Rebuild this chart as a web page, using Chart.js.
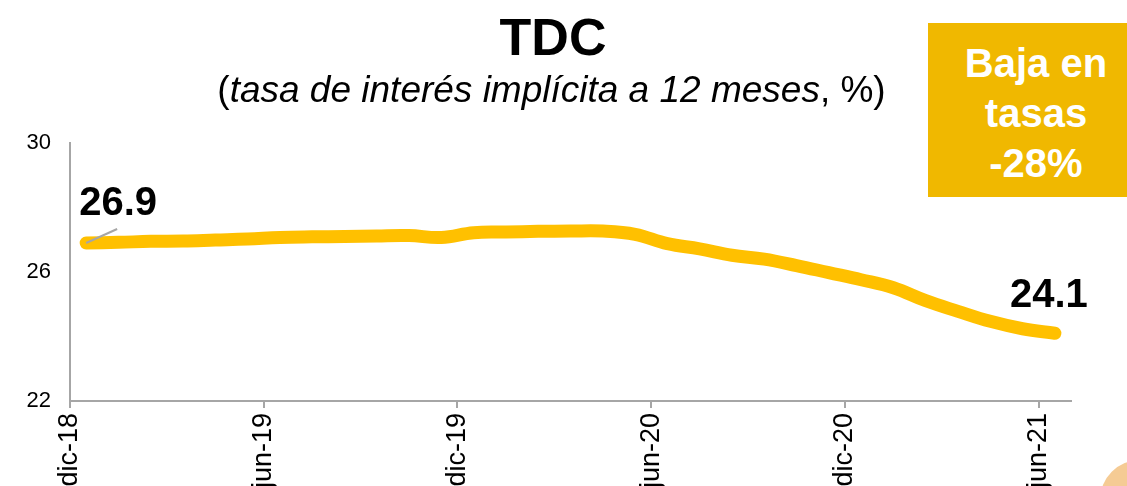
<!DOCTYPE html>
<html>
<head>
<meta charset="utf-8">
<script src="https://cdn.jsdelivr.net/npm/chart.js@4"></script>
<style>
  body { margin: 0; background: #fff; overflow: hidden; }
  #wrap { position: relative; width: 1127px; height: 486px; overflow: hidden; font-family: "Liberation Sans", Arial, sans-serif; }
  #chart1 { position: absolute; left: 0; top: 0; }
  .title { position: absolute; left: 0; width: 1106px; top: 11px; text-align: center; font: bold 52px/52px "Liberation Sans", Arial, sans-serif; color: #000; }
  .subtitle { position: absolute; left: 0; width: 1103px; top: 71px; text-align: center; font: 37px/37px "Liberation Sans", Arial, sans-serif; color: #000; }
  .badge { position: absolute; left: 928px; top: 23px; width: 216px; height: 159px; padding-top: 15px; background: #f0b800; color: #fff; text-align: center; font: bold 40px/50px "Liberation Sans", Arial, sans-serif; }
  .dot { position: absolute; left: 1100px; top: 460px; width: 80px; height: 80px; border-radius: 50%; background: #f5cb94; }
</style>
</head>
<body>
<div id="wrap">
  <canvas id="chart1" width="1127" height="520"></canvas>
  <div class="title">TDC</div>
  <div class="subtitle">(<i>tasa de interés implícita a 12 meses</i>, %)</div>
  <div class="badge">Baja en<br>tasas<br>-28%</div>
  <div class="dot"></div>
</div>
<script>
const months = [
  "dic-18",
  "ene-19", "feb-19", "mar-19", "abr-19", "may-19", "jun-19",
  "jul-19", "ago-19", "sep-19", "oct-19", "nov-19", "dic-19",
  "ene-20", "feb-20", "mar-20", "abr-20", "may-20", "jun-20",
  "jul-20", "ago-20", "sep-20", "oct-20", "nov-20", "dic-20",
  "ene-21", "feb-21", "mar-21", "abr-21", "may-21", "jun-21",
];

// tasa implicita a 12 meses, %
const tdc = [
  26.90,
  26.92, 26.95, 26.96, 26.99, 27.02, 27.07,
  27.09, 27.10, 27.12, 27.13, 27.07, 27.22,
  27.24, 27.26, 27.27, 27.27, 27.17, 26.88,
  26.72, 26.52, 26.40, 26.20, 25.98, 25.76,
  25.51, 25.11, 24.78, 24.47, 24.24, 24.10,
];

const tickLabels = ["dic-18", "jun-19", "dic-19", "jun-20", "dic-20", "jun-21"];
const yTicks = [22, 26, 30];

// mid-month points
const points = tdc.map((v, i) => ({ x: i + 0.5, y: v }));

const endLabels = {
  id: "endLabels",
  afterDatasetsDraw(chart) {
    const ctx = chart.ctx;
    const pts = chart.getDatasetMeta(0).data;
    const first = pts[0];
    const last = pts[pts.length - 1];
    ctx.save();
    // leader line
    ctx.strokeStyle = "#a6a6a6";
    ctx.lineWidth = 2;
    ctx.beginPath();
    ctx.moveTo(first.x, first.y);
    ctx.lineTo(first.x + 31, first.y - 14);
    ctx.stroke();
    ctx.fillStyle = "#000";
    ctx.font = "bold 40px 'Liberation Sans', Arial, sans-serif";
    ctx.textAlign = "center";
    ctx.textBaseline = "alphabetic";
    ctx.fillText(tdc[0].toFixed(1), first.x + 32, first.y - 28);
    ctx.fillText(tdc[tdc.length - 1].toFixed(1), last.x - 6, last.y - 26);
    ctx.restore();
  },
};

new Chart(document.getElementById("chart1"), {
  type: "line",
  data: {
    datasets: [
      {
        label: "TDC",
        data: points,
        borderColor: "#ffc000",
        borderWidth: 13,
        borderCapStyle: "round",
        borderJoinStyle: "round",
        tension: 0.4,
        pointRadius: 0,
        fill: false,
      },
    ],
  },
  options: {
    responsive: false,
    animation: false,
    devicePixelRatio: 1,
    layout: { padding: { left: 0, right: 56, top: 143, bottom: 0 } },
    plugins: {
      legend: { display: false },
      tooltip: { enabled: false },
    },
    scales: {
      x: {
        type: "linear",
        min: 0,
        max: 31,
        afterBuildTicks: (scale) => {
          scale.ticks = tickLabels.map((l) => ({ value: months.indexOf(l) }));
        },
        afterFit: (scale) => { scale.height = 119; },
        border: { color: "#a6a6a6", width: 2 },
        grid: { drawOnChartArea: false, drawTicks: true, tickLength: 7, color: "#a6a6a6", lineWidth: 2 },
        ticks: {
          autoSkip: false,
          minRotation: 90,
          maxRotation: 90,
          padding: 5,
          color: "#000",
          font: { family: "'Liberation Sans', Arial, sans-serif", size: 27 },
          callback: (v) => months[v],
        },
      },
      y: {
        min: 22,
        max: 30,
        afterBuildTicks: (scale) => {
          scale.ticks = yTicks.map((v) => ({ value: v }));
        },
        afterFit: (scale) => { scale.width = 70; },
        border: { color: "#a6a6a6", width: 2 },
        grid: { drawOnChartArea: false, drawTicks: false },
        ticks: {
          padding: 19,
          color: "#000",
          font: { family: "'Liberation Sans', Arial, sans-serif", size: 22 },
        },
      },
    },
  },
  plugins: [endLabels],
});
</script>
</body>
</html>
